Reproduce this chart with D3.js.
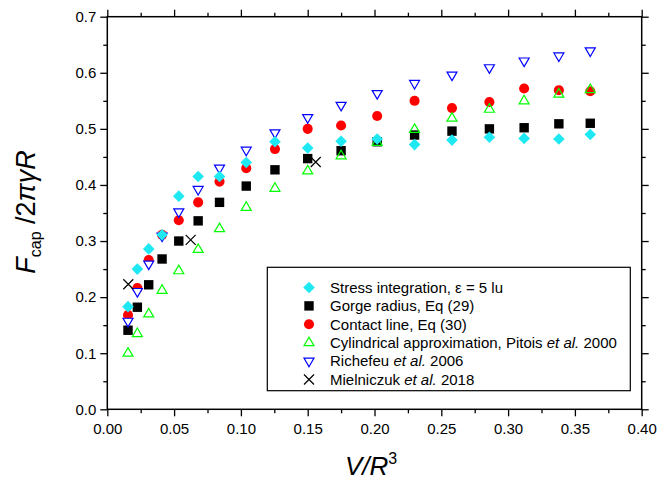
<!DOCTYPE html>
<html><head><meta charset="utf-8">
<script src="https://cdn.jsdelivr.net/npm/d3@7"></script>
<style>
body{margin:0;background:#fff}
svg{display:block;font-family:"Liberation Sans",Arial,sans-serif}
</style>
</head><body>
<svg id="c" width="658" height="483"></svg>
<script>
// ---- data ----
const vR3 = [0.0155, 0.0225, 0.031, 0.041, 0.0535, 0.068, 0.084, 0.104, 0.1255, 0.150, 0.175, 0.202, 0.230, 0.258, 0.286, 0.312, 0.338, 0.3615];
const stressIntegration = [0.183, 0.250, 0.286, 0.311, 0.380, 0.415, 0.415, 0.440, 0.477, 0.466, 0.478, 0.482, 0.472, 0.480, 0.485, 0.483, 0.482, 0.490];
const gorgeRadius = [0.141, 0.182, 0.222, 0.268, 0.300, 0.336, 0.369, 0.398, 0.427, 0.447, 0.461, 0.477, 0.489, 0.496, 0.500, 0.502, 0.509, 0.510];
const contactLine = [0.168, 0.216, 0.266, 0.311, 0.337, 0.369, 0.406, 0.430, 0.464, 0.500, 0.506, 0.523, 0.550, 0.537, 0.548, 0.572, 0.569, 0.567];
const cylindrical = [0.100, 0.135, 0.170, 0.212, 0.247, 0.285, 0.322, 0.360, 0.394, 0.425, 0.452, 0.476, 0.499, 0.519, 0.535, 0.550, 0.562, 0.570];
const richefeu = [0.157, 0.210, 0.259, 0.309, 0.352, 0.392, 0.430, 0.462, 0.493, 0.520, 0.542, 0.563, 0.581, 0.596, 0.609, 0.621, 0.630, 0.639];
const mielX = [0.0157, 0.0624, 0.156];
const mielY = [0.223, 0.302, 0.441];

const xTickLabels = ["0.00","0.05","0.10","0.15","0.20","0.25","0.30","0.35","0.40"];
const yTickLabels = ["0.0","0.1","0.2","0.3","0.4","0.5","0.6","0.7"];

// ---- setup ----
const svg = d3.select("#c");
const X0 = 107.3, X1 = 641.7, Y0 = 409.3, Y1 = 16.7;
const x = d3.scaleLinear().domain([0, 0.4]).range([X0, X1]);
const y = d3.scaleLinear().domain([0, 0.7]).range([Y0, Y1]);

const xMajor = xTickLabels.map(Number);
const xMinor = d3.range(8).map(i => 0.025 + i * 0.05);
const yMajor = yTickLabels.map(Number);
const yMinor = d3.range(7).map(i => 0.05 + i * 0.1);

function styleAxis(g){
  g.select(".domain").remove();
  g.selectAll("line").attr("stroke","#000").attr("stroke-width",1.3);
  g.selectAll("text").attr("fill","#000").style("font-size","15px").style("font-family","'Liberation Sans',Arial,sans-serif");
}
// bottom
svg.append("g").attr("transform",`translate(0,${Y0})`).call(d3.axisBottom(x).tickValues(xMinor).tickSize(4).tickFormat("")).call(styleAxis);
svg.append("g").attr("transform",`translate(0,${Y0})`).call(d3.axisBottom(x).tickValues(xMajor).tickSize(7).tickPadding(7).tickFormat((d,i)=>xTickLabels[i])).call(styleAxis);
// top
svg.append("g").attr("transform",`translate(0,${Y1})`).call(d3.axisTop(x).tickValues(xMinor).tickSize(4).tickFormat("")).call(styleAxis);
svg.append("g").attr("transform",`translate(0,${Y1})`).call(d3.axisTop(x).tickValues(xMajor).tickSize(7).tickFormat("")).call(styleAxis);
// left
svg.append("g").attr("transform",`translate(${X0},0)`).call(d3.axisLeft(y).tickValues(yMinor).tickSize(4).tickFormat("")).call(styleAxis);
svg.append("g").attr("transform",`translate(${X0},0)`).call(d3.axisLeft(y).tickValues(yMajor).tickSize(7).tickPadding(4).tickFormat((d,i)=>yTickLabels[i])).call(styleAxis);
// right
svg.append("g").attr("transform",`translate(${X1},0)`).call(d3.axisRight(y).tickValues(yMinor).tickSize(4).tickFormat("")).call(styleAxis);
svg.append("g").attr("transform",`translate(${X1},0)`).call(d3.axisRight(y).tickValues(yMajor).tickSize(7).tickFormat("")).call(styleAxis);

// frame
svg.append("rect").attr("x",X0).attr("y",Y1).attr("width",X1-X0).attr("height",Y0-Y1)
  .attr("fill","none").attr("stroke","#000").attr("stroke-width",1.5);

// ---- symbols ----
const shapes = {
  square: "M-4.7,-4.7H4.7V4.7H-4.7Z",
  circle: d3.symbol(d3.symbolCircle, 80)(),
  diamond: "M0,-5.8L5.8,0L0,5.8L-5.8,0Z",
  up: "M0,-5.6L5,3L-5,3Z",
  down: "M0,5.6L5,-3L-5,-3Z",
  cross: "M-5,-5L5,5M-5,5L5,-5"
};
const series = [
  {name:"gorge", vals:gorgeRadius, shape:"square", fill:"#000", stroke:"none"},
  {name:"contact", vals:contactLine, shape:"circle", fill:"#ff0000", stroke:"none"},
  {name:"cyl", vals:cylindrical, shape:"up", fill:"none", stroke:"#00ff00"},
  {name:"rich", vals:richefeu, shape:"down", fill:"#fff", stroke:"#0000ff"},
  {name:"stress", vals:stressIntegration, shape:"diamond", fill:"#1ee8f2", stroke:"none"}
];
const plot = svg.append("g");
series.forEach(s => {
  plot.append("g").selectAll("path").data(s.vals.map((v,i)=>({x:vR3[i], y:v}))).join("path")
    .attr("d", shapes[s.shape])
    .attr("transform", d => `translate(${x(d.x)},${y(d.y)})`)
    .attr("fill", s.fill).attr("stroke", s.stroke).attr("stroke-width", 1.2);
});
plot.append("g").selectAll("path").data(mielX.map((v,i)=>({x:v, y:mielY[i]}))).join("path")
  .attr("d", shapes.cross)
  .attr("transform", d => `translate(${x(d.x)},${y(d.y)})`)
  .attr("fill","none").attr("stroke","#000").attr("stroke-width",1.2);

// ---- legend ----
const leg = svg.append("g");
leg.append("rect").attr("x",267.3).attr("y",267.3).attr("width",363).attr("height",123.4)
  .attr("fill","#fff").attr("stroke","#000").attr("stroke-width",1.2);
const legItems = [
  {shape:"diamond", fill:"#1ee8f2", stroke:"none", parts:[["Stress integration, ε = 5 lu",false]]},
  {shape:"square", fill:"#000", stroke:"none", parts:[["Gorge radius, Eq (29)",false]]},
  {shape:"circle", fill:"#ff0000", stroke:"none", parts:[["Contact line, Eq (30)",false]]},
  {shape:"up", fill:"none", stroke:"#00ff00", parts:[["Cylindrical approximation, Pitois ",false],["et al.",true],[" 2000",false]]},
  {shape:"down", fill:"#fff", stroke:"#0000ff", parts:[["Richefeu ",false],["et al.",true],[" 2006",false]]},
  {shape:"cross", fill:"none", stroke:"#000", parts:[["Mielniczuk ",false],["et al.",true],[" 2018",false]]}
];
legItems.forEach((it,i) => {
  const cy = 287.5 + i*18.4;
  leg.append("path").attr("d", shapes[it.shape]).attr("transform",`translate(309,${cy})`)
    .attr("fill", it.fill).attr("stroke", it.stroke).attr("stroke-width",1.2);
  const t = leg.append("text").attr("x",330).attr("y",cy+5.3).style("font-size","15px").attr("fill","#000");
  it.parts.forEach(p => t.append("tspan").text(p[0]).style("font-style", p[1] ? "italic" : "normal"));
});

// ---- axis titles ----
const xt = svg.append("text").attr("x",371).attr("y",475).attr("text-anchor","middle").style("font-size","26px").attr("fill","#000");
xt.append("tspan").text("V/R").style("font-style","italic");
xt.append("tspan").text("3").style("font-size","16px").attr("dy",-11);

const yt = svg.append("text").attr("transform","translate(35,212) rotate(-90)").attr("text-anchor","middle").style("font-size","27px").attr("fill","#000");
yt.append("tspan").text("F").style("font-style","italic");
yt.append("tspan").text("cap").style("font-size","16px").attr("dy",6);
yt.append("tspan").text(" /2").attr("dy",-6);
yt.append("tspan").text("πγR").style("font-style","italic");
</script>
</body></html>
